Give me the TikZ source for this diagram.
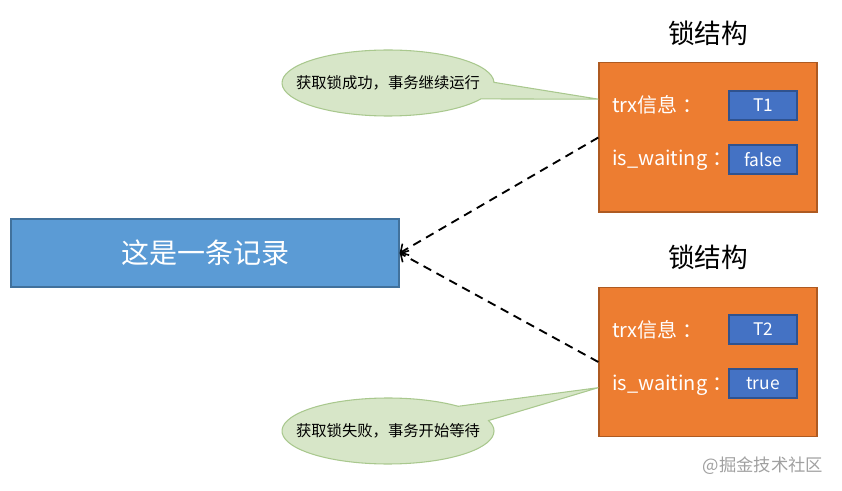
\documentclass[tikz,border=0pt]{standalone}
\usepackage{fontspec}
\setmainfont{Noto Sans CJK SC}
\usetikzlibrary{arrows.meta,shapes.callouts,shapes.geometric,calc}
\definecolor{recfill}{HTML}{5B9BD5}
\definecolor{recdraw}{HTML}{41719C}
\definecolor{lockfill}{HTML}{ED7D31}
\definecolor{lockdraw}{HTML}{AE5A21}
\definecolor{valfill}{HTML}{4472C4}
\definecolor{valdraw}{HTML}{2F528F}
\definecolor{bubfill}{HTML}{D7E6C8}
\definecolor{bubdraw}{HTML}{A9C88E}
\definecolor{wmark}{HTML}{A0A0A0}
\tikzset{
  recbox/.style={draw=recdraw, fill=recfill, line width=1pt, minimum width=291pt, minimum height=51pt, inner sep=0pt, text=white, font=\fontsize{21}{24}\selectfont},
  lockbox/.style={draw=lockdraw, fill=lockfill, line width=1pt, minimum width=163.5pt, minimum height=112pt, inner sep=0pt},
  valbox/.style={draw=valdraw, fill=valfill, line width=1pt, minimum width=51pt, minimum height=21.75pt, inner sep=0pt, text=white, font=\fontsize{13}{15}\selectfont},
  fieldlbl/.style={anchor=west, inner sep=0pt, text=white, font=\fontsize{15}{17}\selectfont},
  locktitle/.style={inner sep=0pt, font=\fontsize{20}{23}\selectfont},
  bubble/.style={ellipse callout, draw=bubdraw, fill=bubfill, line width=0.8pt, minimum width=159pt, minimum height=49.5pt, inner sep=0pt, callout pointer arc=30},
  bubtext/.style={inner sep=0pt, font=\fontsize{11.5}{13}\selectfont},
  link/.style={dashed, dash pattern=on 6.5pt off 4.5pt, line width=1.4pt, -{Straight Barb[length=4.5pt,width=10pt,line width=1.2pt]}},
}
\begin{document}
\begin{tikzpicture}[x=0.75pt, y=-0.75pt]
\useasboundingbox (0,0) rectangle (842,491);
% record
\node[recbox] (rec) at (205,253) {这是一条记录};
% lock structure 1
\node[locktitle] (t1) at (708,33) {锁结构};
\node[lockbox] (lock1) at (708,137.5) {};
\node[fieldlbl] (trx1) at (612,105) {trx信息\kern4pt：};
\node[fieldlbl] (wait1) at (612,160) {is\_waiting\kern4pt：};
\node[valbox] (v1) at (763,105.5) {T1};
\node[valbox] (w1) at (763,159.5) {false};
% lock structure 2
\node[locktitle] (t2) at (708,257) {锁结构};
\node[lockbox] (lock2) at (708,362) {};
\node[fieldlbl] (trx2) at (612,330) {trx信息\kern4pt：};
\node[fieldlbl] (wait2) at (612,385) {is\_waiting\kern4pt：};
\node[valbox] (v2) at (763,329.5) {T2};
\node[valbox] (w2) at (763,383.5) {true};
% connectors
\draw[link] (lock1.west) -- (rec.east);
\draw[link] (lock2.west) -- (rec.east);
% callouts
\coordinate (tip1) at ($(lock1.north west)+(0,37)$);
\coordinate (tip2) at ($(lock2.north west)+(0,101)$);
\node[bubble, callout absolute pointer={(tip1)}] (b1) at (388,83) {};
\node[bubtext] (b1t) at (b1.center) {获取锁成功，事务继续运行};
\node[bubble, callout absolute pointer={(tip2)}] (b2) at (388,431) {};
\node[bubtext] (b2t) at (b2.center) {获取锁失败，事务开始等待};
% watermark
\node[text=wmark, inner sep=0pt, font=\fontsize{13}{15}\selectfont] (wm) at (763,466) {@掘金技术社区};
\end{tikzpicture}
\end{document}
